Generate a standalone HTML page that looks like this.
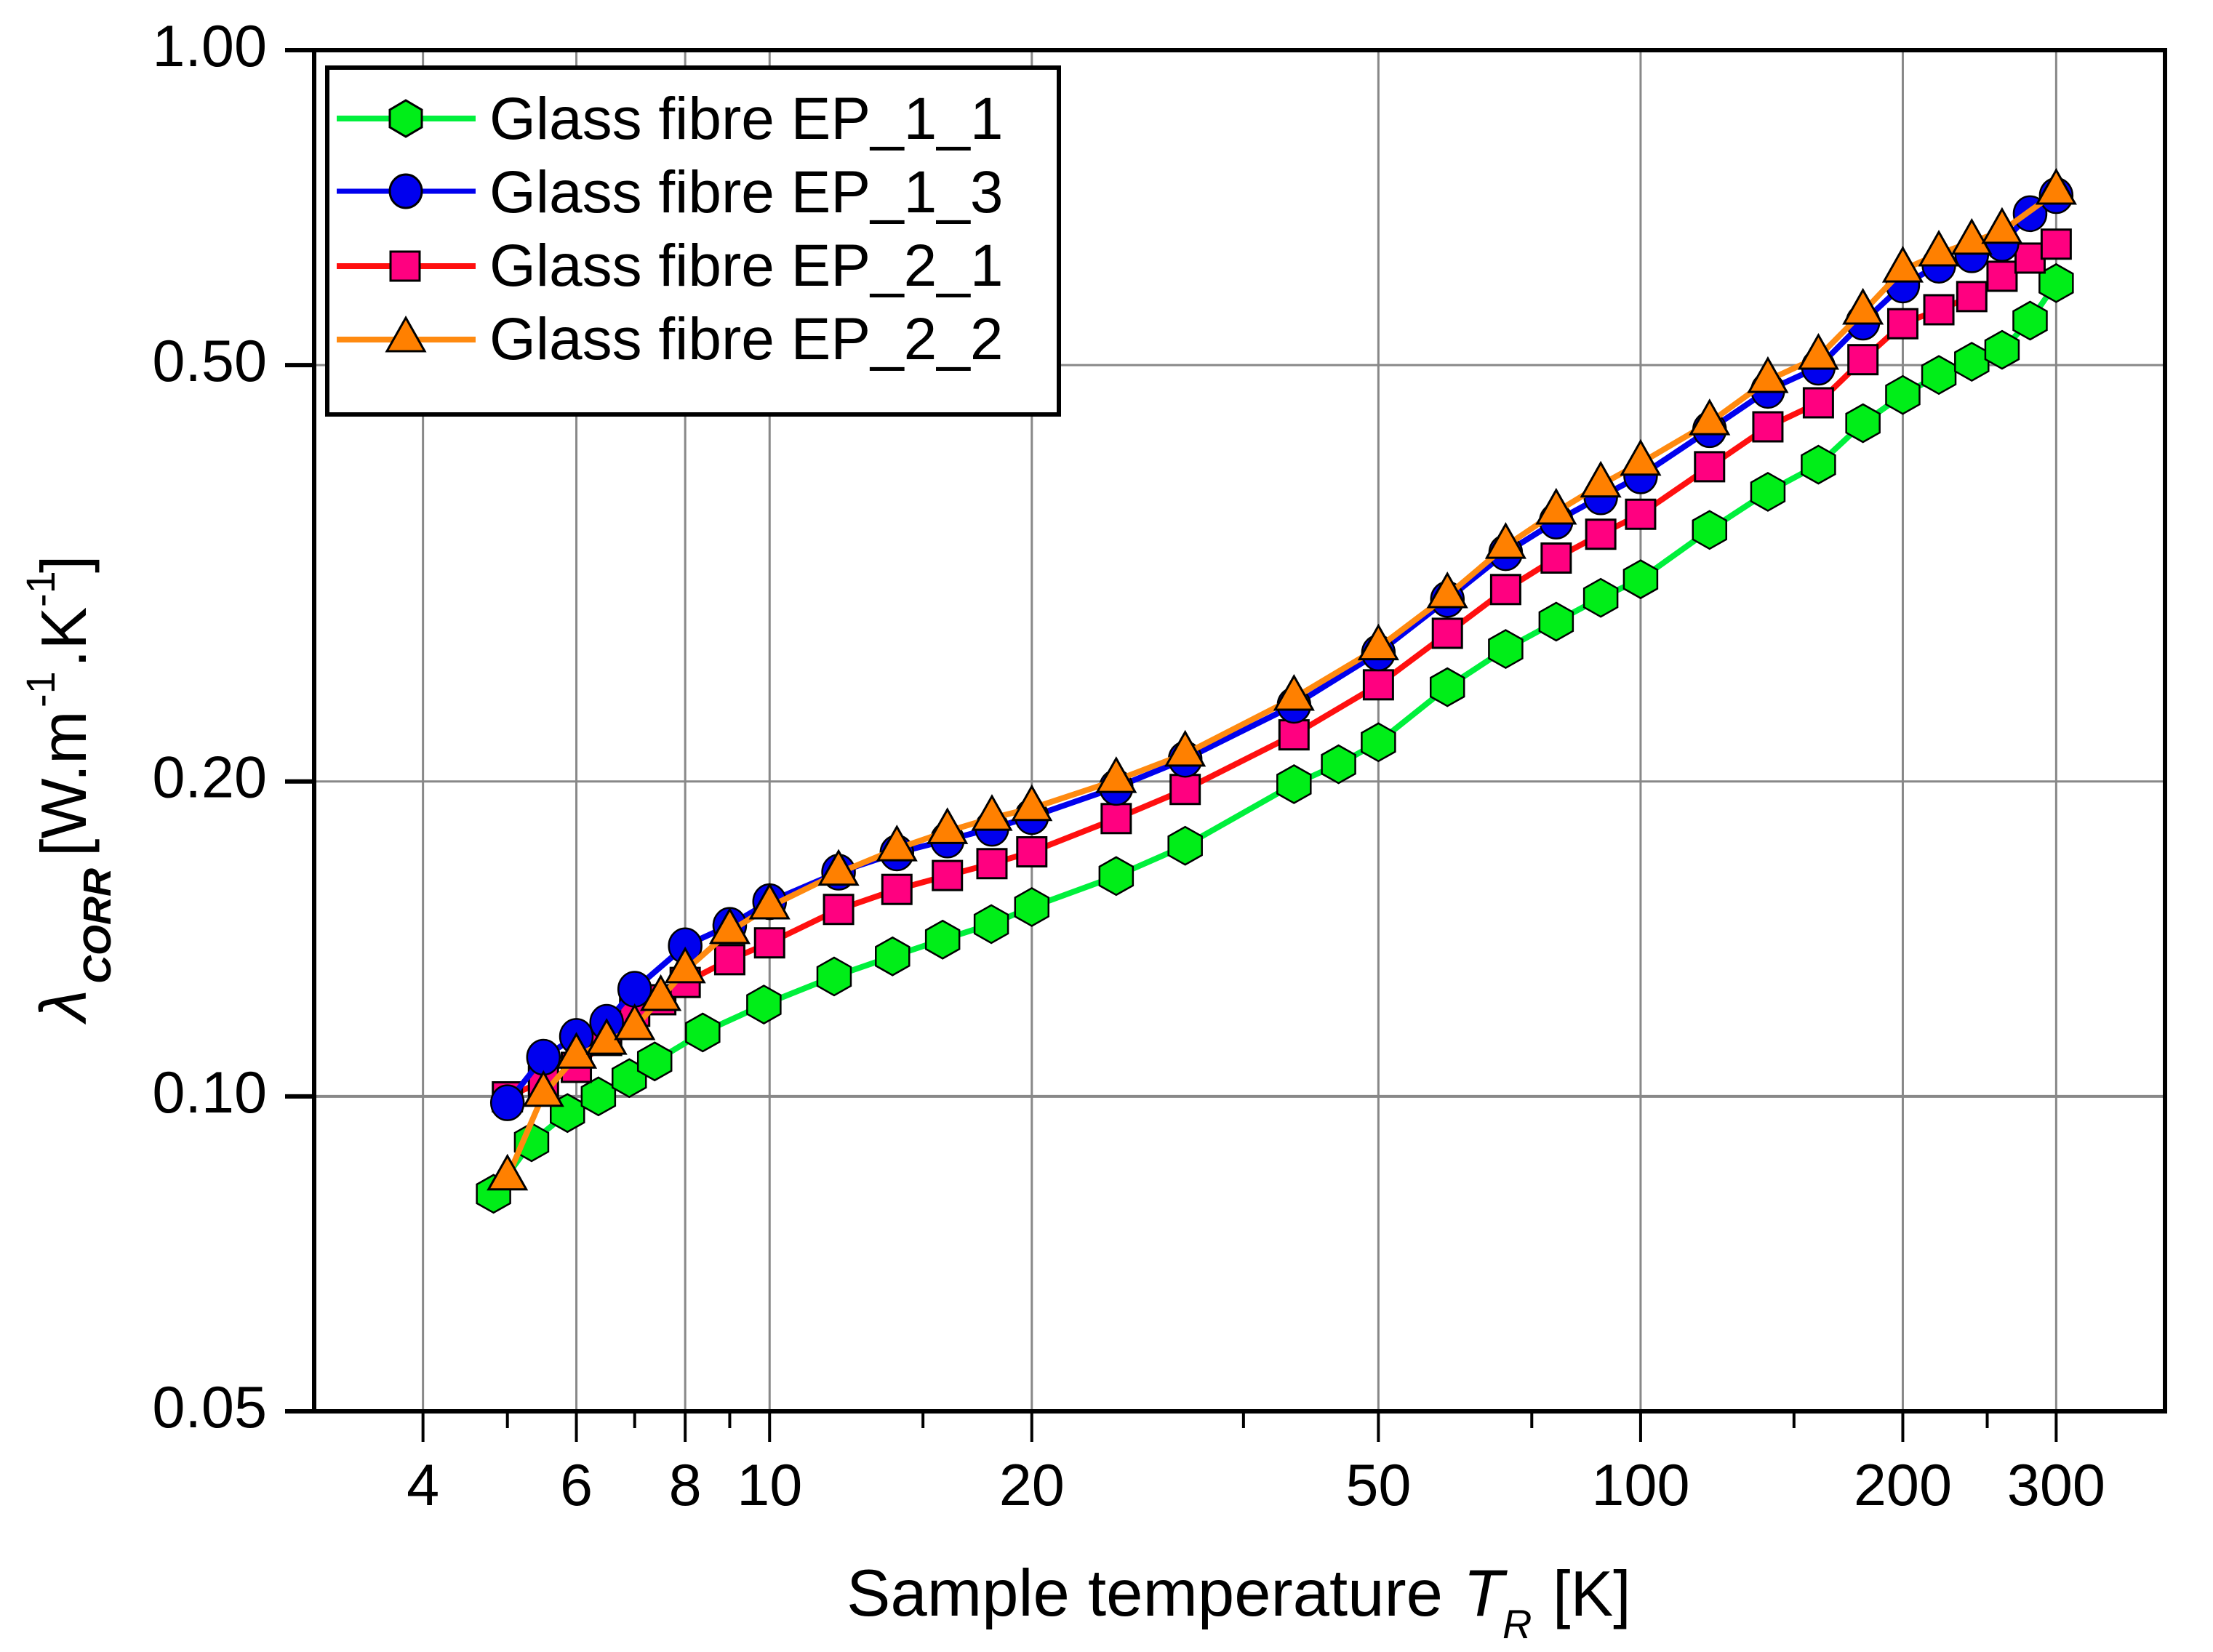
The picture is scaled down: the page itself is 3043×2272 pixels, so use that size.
<!DOCTYPE html>
<html lang="en">
<head>
<meta charset="utf-8">
<title>Thermal conductivity of glass fibre composites</title>
<style>
html,body{margin:0;padding:0;background:#fff;}
svg{display:block;font-family:"Liberation Sans",sans-serif;}
</style>
</head>
<body>
<svg id="chart" xmlns="http://www.w3.org/2000/svg" width="3043" height="2272" viewBox="0 0 3043 2272">
  <rect x="0" y="0" width="3043" height="2272" fill="#fff"/>
  <g id="grid"></g>
  <g id="series"></g>
  <g id="axes"></g>

  <g fill="#000">
    <text transform="translate(118,1405) rotate(-90)" font-size="90" font-style="italic">λ</text>
    <text transform="translate(152,1353) rotate(-90)" font-size="54" font-style="italic" font-weight="bold">CORR</text>
    <text transform="translate(118,1178) rotate(-90)" font-size="88">[W.m</text>
    <text transform="translate(75,973) rotate(-90)" font-size="56">-1</text>
    <text transform="translate(118,918) rotate(-90)" font-size="88">.K</text>
    <text transform="translate(75,835) rotate(-90)" font-size="56">-1</text>
    <text transform="translate(118,788) rotate(-90)" font-size="88">]</text>
  </g>

  <g fill="#000">
    <text x="1164" y="2222" font-size="90.5">Sample temperature</text>
    <text x="2012" y="2222" font-size="91" font-style="italic">T</text>
    <text x="2066" y="2253" font-size="56" font-style="italic">R</text>
    <text x="2135" y="2222" font-size="88">[K]</text>
  </g>

  <g>
    <rect x="450" y="93" width="1006" height="477" fill="#fff" stroke="#000" stroke-width="6"/>
    <g>
      <line x1="463" y1="163" x2="654" y2="163" stroke="#00f03c" stroke-width="8"/>
      <polygon points="558,138 580,151 580,175 558,188 536,175 536,151" fill="#00ee18" stroke="#000" stroke-width="3"/>
      <text x="673" y="191" font-size="82">Glass fibre EP_1_1</text>
    </g>
    <g>
      <line x1="463" y1="263" x2="654" y2="263" stroke="#0000ee" stroke-width="7"/>
      <ellipse cx="558" cy="263" rx="22" ry="23" fill="#0000ee" stroke="#000" stroke-width="3"/>
      <text x="673" y="292" font-size="82">Glass fibre EP_1_3</text>
    </g>
    <g>
      <line x1="463" y1="366" x2="654" y2="366" stroke="#ff0f0f" stroke-width="8"/>
      <rect x="537" y="346" width="40" height="40" fill="#ff0080" stroke="#000" stroke-width="3"/>
      <text x="673" y="393" font-size="82">Glass fibre EP_2_1</text>
    </g>
    <g>
      <line x1="463" y1="467" x2="654" y2="467" stroke="#ff8a10" stroke-width="8"/>
      <polygon points="558,437 584,483 532,483" fill="#ff8000" stroke="#000" stroke-width="3"/>
      <text x="673" y="494" font-size="82">Glass fibre EP_2_2</text>
    </g>
  </g>
</svg>

<script>
const xMajorTicks = [4, 6, 8, 10, 20, 50, 100, 200, 300];
const xMinorTicks = [5, 7, 9, 15, 35, 75, 150, 250];
const yTicks = [0.05, 0.10, 0.20, 0.50, 1.00];
const yGridValues = [0.10, 0.20, 0.50];

const tempsEp11 = [4.82,5.33,5.86,6.36,6.9,7.38,8.38,9.85,11.86,13.84,15.8,17.97,20,25,30,40,45,50,60,70,80,90,100,120,140,160,180,200,220,240,260,280,300];
const valuesEp11 = [.0807,.0904,.0964,.1000,.1041,.1080,.1151,.1224,.1302,.1361,.1412,.1461,.1517,.1624,.1736,.1988,.2077,.2180,.2461,.2677,.2843,.2996,.3121,.3479,.3783,.4016,.4400,.4682,.4893,.5037,.5171,.5514,.5989];

const tempsEp13 = [5,5.5,6,6.5,7,8,9,10,12,14,16,18,20,25,30,40,50,60,70,80,90,100,120,140,160,180,200,220,240,260,280,300];
const valuesEp13 = [.0986,.1090,.1141,.1177,.1266,.1393,.1457,.1535,.1638,.1709,.1758,.1804,.1851,.1974,.2100,.2365,.2654,.2986,.3309,.3547,.3742,.3919,.4338,.4730,.4977,.5496,.5964,.6230,.6374,.6537,.6978,.7261];

const tempsEp21 = [5,5.5,6,6.5,7,7.5,8,9,10,12,14,16,18,20,25,30,40,50,60,70,80,90,100,120,140,160,180,200,220,240,260,280,300];
const valuesEp21 = [.0999,.1034,.1066,.1131,.1206,.1237,.1285,.1351,.1402,.1509,.1577,.1626,.1669,.1713,.1843,.1965,.2216,.2474,.2771,.3051,.3270,.3446,.3601,.3998,.4365,.4602,.5060,.5477,.5648,.5814,.6080,.6328,.6525];

const tempsEp22 = [5,5.5,6,6.5,7,7.5,8,9,10,12,14,16,18,20,25,30,40,50,60,70,80,90,100,120,140,160,180,200,220,240,260,300];
const valuesEp22 = [.0836,.1005,.1093,.1127,.1164,.1241,.1319,.1438,.1518,.1635,.1725,.1792,.1845,.1885,.2005,.2125,.2403,.2685,.3011,.3357,.3620,.3842,.4031,.4406,.4836,.5090,.5621,.6166,.6388,.6555,.6715,.7319];

const NS = 'http://www.w3.org/2000/svg';
const PLOT = { left: 432, right: 2977, top: 69, bottom: 1941 };
const X_MIN = 3, X_MAX = 400, Y_MIN = 0.05, Y_MAX = 1;

function xScale(v) {
  return PLOT.left + (Math.log10(v / X_MIN) / Math.log10(X_MAX / X_MIN)) * (PLOT.right - PLOT.left);
}
function yScale(v) {
  return PLOT.bottom - (Math.log10(v / Y_MIN) / Math.log10(Y_MAX / Y_MIN)) * (PLOT.bottom - PLOT.top);
}
function make(tag, attrs, parent) {
  const el = document.createElementNS(NS, tag);
  for (const k in attrs) el.setAttribute(k, attrs[k]);
  parent.appendChild(el);
  return el;
}

const gridGroup = document.getElementById('grid');
const axesGroup = document.getElementById('axes');
const seriesGroup = document.getElementById('series');

xMajorTicks.forEach(function (t) {
  const x = xScale(t);
  const grid = make('line', { x1: x, x2: x, y1: PLOT.top, y2: PLOT.bottom, stroke: '#888', 'stroke-width': 3 }, gridGroup);
  
  
  const tick = make('line', { x1: x, x2: x, y1: PLOT.bottom, y2: 1983, stroke: '#000', 'stroke-width': 4 }, axesGroup);
  
  
  const label = make('text', { x: x, y: 2070, 'font-size': 81, 'text-anchor': 'middle', fill: '#000' }, axesGroup);
  
  
  label.textContent = String(t);
});

xMinorTicks.forEach(function (t) {
  const x = xScale(t);
  const tick = make('line', { x1: x, x2: x, y1: PLOT.bottom, y2: 1964, stroke: '#000', 'stroke-width': 4 }, axesGroup);
  
  
});

yGridValues.forEach(function (v) {
  const y = yScale(v);
  const grid = make('line', { x1: PLOT.left, x2: PLOT.right, y1: y, y2: y, stroke: '#888', 'stroke-width': v === 0.10 ? 4 : 3 }, gridGroup);
  
  
});

yTicks.forEach(function (v) {
  const y = yScale(v);
  const tick = make('line', { x1: 392, x2: PLOT.left, y1: y, y2: y, stroke: '#000', 'stroke-width': 6 }, axesGroup);
  
  
  const label = make('text', { x: 367, y: y + 22, 'font-size': 81, 'text-anchor': 'end', fill: '#000' }, axesGroup);
  
  
  label.textContent = v.toFixed(2);
});

const frame = make('rect', { x: PLOT.left, y: PLOT.top, width: PLOT.right - PLOT.left, height: PLOT.bottom - PLOT.top, fill: 'none', stroke: '#000', 'stroke-width': 6 }, axesGroup);



function drawHexagon(g, x, y) {
  const pts = [[0,-26],[23,-13],[23,13],[0,26],[-23,13],[-23,-13]].map(function (p) { return (x + p[0]) + ',' + (y + p[1]); }).join(' ');
  return make('polygon', { points: pts, fill: '#00ee18', stroke: '#000', 'stroke-width': 2.5 }, g);
}
function drawCircle(g, x, y) {
  return make('ellipse', { cx: x, cy: y, rx: 22.5, ry: 24, fill: '#0000ee', stroke: '#000', 'stroke-width': 2.5 }, g);
}
function drawSquare(g, x, y) {
  return make('rect', { x: x - 20, y: y - 20, width: 40, height: 40, fill: '#ff0080', stroke: '#000', 'stroke-width': 3 }, g);
}
function drawTriangle(g, x, y) {
  const pts = [[0,-30],[26,16],[-26,16]].map(function (p) { return (x + p[0]) + ',' + (y + p[1]); }).join(' ');
  return make('polygon', { points: pts, fill: '#ff8000', stroke: '#000', 'stroke-width': 3 }, g);
}

function drawSeries(key, temps, values, color, width, marker) {
  const g = make('g', {}, seriesGroup);
  
  
  const pts = temps.map(function (t, i) { return xScale(t).toFixed(1) + ',' + yScale(values[i]).toFixed(1); }).join(' ');
  const line = make('polyline', { points: pts, fill: 'none', stroke: color, 'stroke-width': width, 'stroke-linejoin': 'round' }, g);
  
  
  temps.forEach(function (t, i) {
    const m = marker(g, xScale(t), yScale(values[i]));
    
    
  });
}

drawSeries('ep-1-1', tempsEp11, valuesEp11, '#00f03c', 8, drawHexagon);
drawSeries('ep-2-1', tempsEp21, valuesEp21, '#ff0f0f', 8, drawSquare);
drawSeries('ep-1-3', tempsEp13, valuesEp13, '#0000ee', 8, drawCircle);
drawSeries('ep-2-2', tempsEp22, valuesEp22, '#ff8a10', 8, drawTriangle);
</script>
</body>
</html>
